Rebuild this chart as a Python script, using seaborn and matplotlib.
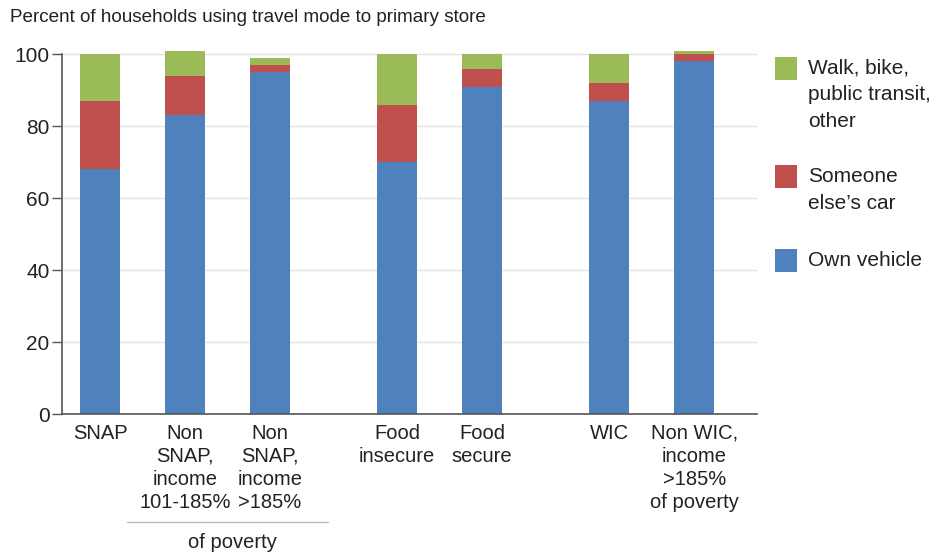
import matplotlib
matplotlib.use("Agg")
import matplotlib.pyplot as plt
from matplotlib.patches import Rectangle
from matplotlib.lines import Line2D
import seaborn as sns
import pandas as pd

# data (percent of households)
groups = ["SNAP", "Non\nSNAP,\nincome\n101-185%", "Non\nSNAP,\nincome\n>185%",
          "Food\ninsecure", "Food\nsecure", "WIC", "Non WIC,\nincome\n>185%\nof poverty"]
own_vehicle = [68, 83, 95, 70, 91, 87, 98]
someone_else_car = [19, 11, 2, 16, 5, 5, 2]
walk_bike_other = [13, 7, 2, 14, 4, 8, 1]
series_names = ["Walk, bike,\npublic transit,\nother", "Someone\nelse\u2019s car", "Own vehicle"]

# layout: gaps between the three comparison groups
x_pos = [0, 1, 2, 3.5, 4.5, 6, 7]
colors = {"own": "#4F81BD", "car": "#C0504D", "walk": "#9BBB59"}

df = pd.DataFrame({"pos": x_pos, "own": own_vehicle, "car": someone_else_car, "walk": walk_bike_other})
df["own_car"] = df["own"] + df["car"]
df["total"] = df["own_car"] + df["walk"]

sns.set_style("white")
plt.rcParams["font.family"] = ["Liberation Sans", "DejaVu Sans"]
TXT = "#222222"

fig = plt.figure(figsize=(9.38, 5.54), dpi=100)
ax = fig.add_axes([62 / 938, 1 - 414 / 554, (757 - 62) / 938, (414 - 47.1) / 554])

# stacked bars: draw the cumulative totals from the top down
for col, c in [("total", colors["walk"]), ("own_car", colors["car"]), ("own", colors["own"])]:
    sns.barplot(data=df, x="pos", y=col, native_scale=True, width=0.47,
                color=c, saturation=1, errorbar=None, linewidth=0, ax=ax)

ax.set_xlim(-0.448, 7.74)
ax.set_ylim(0, 102)
ax.set_yticks([0, 20, 40, 60, 80, 100])
ax.set_xticks(x_pos)
ax.set_xticklabels(groups, fontsize=14.5, linespacing=1.28, va="top")
ax.set_xlabel("")
ax.set_ylabel("")
ax.tick_params(axis="x", length=0, pad=7, labelcolor=TXT)
ax.tick_params(axis="y", length=7, width=1, direction="out", left=True,
               labelsize=15, pad=2, colors="#555555", labelcolor=TXT)
ax.grid(axis="y", color="#E3E3E3", linewidth=1)
ax.set_axisbelow(True)
for s in ["top", "right"]:
    ax.spines[s].set_visible(False)
for s in ["left", "bottom"]:
    ax.spines[s].set_color("#555555")
    ax.spines[s].set_linewidth(1.2)
ax.spines["left"].set_bounds(0, 100)

# title
fig.text(10 / 938, 1 - 18 / 554, "Percent of households using travel mode to primary store",
         fontsize=13.6, va="center", ha="left", color=TXT)

# shared "of poverty" bracket under the Non SNAP groups
fig.add_artist(Line2D([127 / 938, 328 / 938], [1 - 522 / 554, 1 - 522 / 554],
                      color="#BBBBBB", linewidth=1))
fig.text(232 / 938, 1 - 542 / 554, "of poverty", fontsize=14.5, ha="center", va="center",
         color=TXT)

# legend drawn by hand so each square sits on the first line of its label
legend_colors = [colors["walk"], colors["car"], colors["own"]]
legend_tops = [57, 165, 249]
for name, c, top in zip(series_names, legend_colors, legend_tops):
    fig.add_artist(Rectangle((775 / 938, 1 - (top + 23) / 554), 22 / 938, 23 / 554,
                             transform=fig.transFigure, color=c, linewidth=0))
    fig.text(808 / 938, 1 - (top + 2) / 554, name, fontsize=15, ha="left", va="top",
             linespacing=1.5, color=TXT)

fig.savefig("out.png", dpi=100)
